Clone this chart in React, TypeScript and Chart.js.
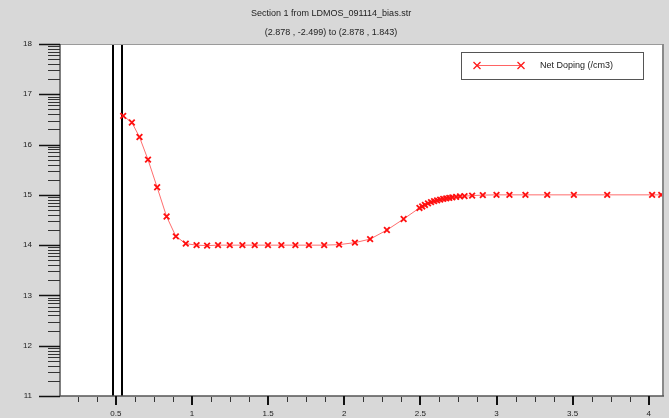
import React, { useEffect, useRef } from 'react';
import { Chart, registerables } from 'chart.js';

Chart.register(...registerables);

const titleLines = ['Section 1 from LDMOS_091114_bias.str', '(2.878 , -2.499) to (2.878 , 1.843)'];
const seriesLabel = 'Net Doping (/cm3)';

const xValues = [
  0.548, 0.605, 0.655, 0.711, 0.771, 0.833, 0.894, 0.959, 1.03, 1.099,
  1.171, 1.248, 1.331, 1.412, 1.499, 1.587, 1.679, 1.768, 1.868, 1.966,
  2.07, 2.17, 2.28, 2.39, 2.494, 2.512, 2.53, 2.55, 2.57, 2.59,
  2.61, 2.63, 2.65, 2.67, 2.69, 2.71, 2.735, 2.76, 2.79, 2.84,
  2.91, 3.0, 3.085, 3.19, 3.333, 3.508, 3.727, 4.022, 4.082,
];
const yValues = [
  16.57, 16.44, 16.15, 15.7, 15.15, 14.57, 14.175, 14.03, 14.0, 13.99,
  14.0, 14.0, 14.0, 14.0, 14.0, 14.0, 14.0, 14.0, 14.0, 14.01,
  14.05, 14.12, 14.3, 14.52, 14.74, 14.77, 14.8, 14.83, 14.855, 14.875,
  14.89, 14.905, 14.92, 14.93, 14.94, 14.95, 14.96, 14.97, 14.975, 14.985,
  14.995, 15.0, 15.0, 15.0, 15.0, 15.0, 15.0, 15.0, 15.0,
];
const regionBoundaries = [0.482, 0.537];
const xTickValues = [0.5, 1, 1.5, 2, 2.5, 3, 3.5, 4];
const yTickValues = [11, 12, 13, 14, 15, 16, 17, 18];
const xRange = [0.133, 4.087];
const yRange = [11, 18];

const FONT = 'Liberation Sans, Arial, Helvetica, sans-serif';
const BG = '#d8d8d8';

const framePlugin = {
  id: 'tonyFrame',
  beforeDraw(chart: any) {
    const { ctx, chartArea: a } = chart;
    ctx.save();
    ctx.fillStyle = BG;
    ctx.fillRect(0, 0, chart.width, chart.height);
    ctx.fillStyle = '#ffffff';
    ctx.fillRect(a.left, a.top, a.right - a.left, a.bottom - a.top);
    ctx.restore();
  },
  beforeDatasetsDraw(chart: any) {
    const { ctx, chartArea: a, scales } = chart;
    ctx.save();
    ctx.strokeStyle = '#000000';
    ctx.lineWidth = 2;
    regionBoundaries.forEach((v) => {
      const px = Math.round(scales.x.getPixelForValue(v));
      ctx.beginPath();
      ctx.moveTo(px, a.top);
      ctx.lineTo(px, a.bottom);
      ctx.stroke();
    });
    ctx.restore();
  },
  afterDraw(chart: any) {
    const { ctx, chartArea: a, scales } = chart;
    const xs = scales.x;
    const ys = scales.y;
    ctx.save();
    ctx.strokeStyle = '#9a9a9a';
    ctx.lineWidth = 1;
    ctx.beginPath();
    ctx.moveTo(a.left, a.top + 0.5);
    ctx.lineTo(a.right, a.top + 0.5);
    ctx.stroke();
    ctx.strokeStyle = '#8a8a8a';
    ctx.lineWidth = 2;
    ctx.beginPath();
    ctx.moveTo(a.right + 1, a.top);
    ctx.lineTo(a.right + 1, a.bottom);
    ctx.stroke();
    ctx.strokeStyle = '#555555';
    ctx.lineWidth = 1.5;
    ctx.beginPath();
    ctx.moveTo(a.left, a.top);
    ctx.lineTo(a.left, a.bottom);
    ctx.lineTo(a.right + 2, a.bottom);
    ctx.stroke();

    ctx.strokeStyle = '#111111';
    yTickValues.forEach((v) => {
      const py = Math.round(ys.getPixelForValue(v)) + 0.5;
      ctx.lineWidth = 1.5;
      ctx.beginPath();
      ctx.moveTo(a.left - 21, py);
      ctx.lineTo(a.left, py);
      ctx.stroke();
    });
    ctx.strokeStyle = '#333333';
    ctx.lineWidth = 1;
    for (let n = yRange[0]; n < yRange[1]; n++) {
      for (let k = 2; k <= 9; k++) {
        const py = Math.round(ys.getPixelForValue(n + Math.log10(k))) + 0.5;
        ctx.beginPath();
        ctx.moveTo(a.left - 12, py);
        ctx.lineTo(a.left, py);
        ctx.stroke();
      }
    }

    ctx.strokeStyle = '#111111';
    ctx.lineWidth = 2;
    xTickValues.forEach((v) => {
      const px = Math.round(xs.getPixelForValue(v));
      ctx.beginPath();
      ctx.moveTo(px, a.bottom);
      ctx.lineTo(px, a.bottom + 9);
      ctx.stroke();
    });
    ctx.strokeStyle = '#333333';
    ctx.lineWidth = 1;
    for (let v = 0.125; v < xRange[1]; v += 0.125) {
      if (v < xRange[0] || Math.abs(v * 2 - Math.round(v * 2)) < 1e-6) continue;
      const px = Math.round(xs.getPixelForValue(v)) + 0.5;
      ctx.beginPath();
      ctx.moveTo(px, a.bottom + 1);
      ctx.lineTo(px, a.bottom + 6);
      ctx.stroke();
    }

    const ds = chart.data.datasets[0];
    const lx = a.left + 401;
    const ly = a.top + 8;
    const lw = 182;
    const lh = 27;
    ctx.fillStyle = '#ffffff';
    ctx.fillRect(lx, ly, lw, lh);
    ctx.strokeStyle = '#555555';
    ctx.lineWidth = 1;
    ctx.strokeRect(lx + 0.5, ly + 0.5, lw, lh);
    const my = ly + 13.5;
    const x1 = lx + 16;
    const x2 = lx + 60;
    ctx.strokeStyle = 'rgba(255,60,60,0.8)';
    ctx.beginPath();
    ctx.moveTo(x1, my);
    ctx.lineTo(x2, my);
    ctx.stroke();
    ctx.strokeStyle = '#ff1a1a';
    ctx.lineWidth = 1.3;
    [x1, x2].forEach((cx) => {
      ctx.beginPath();
      ctx.moveTo(cx - 3.5, my - 3.5);
      ctx.lineTo(cx + 3.5, my + 3.5);
      ctx.moveTo(cx - 3.5, my + 3.5);
      ctx.lineTo(cx + 3.5, my - 3.5);
      ctx.stroke();
    });
    ctx.fillStyle = '#222222';
    ctx.font = `9px ${FONT}`;
    ctx.textBaseline = 'middle';
    ctx.textAlign = 'left';
    ctx.fillText(ds.label, lx + 79, my);
    ctx.restore();
  },
};

export default function App() {
  const canvasRef = useRef<HTMLCanvasElement | null>(null);

  useEffect(() => {
    const canvas = canvasRef.current;
    if (!canvas) return;
    const chart = new Chart(canvas, {
      type: 'scatter',
      data: {
        datasets: [
          {
            label: seriesLabel,
            data: xValues.map((x, i) => ({ x, y: yValues[i] })),
            showLine: true,
            borderColor: 'rgba(255,60,60,0.75)',
            borderWidth: 1,
            pointStyle: 'crossRot',
            pointRadius: 4,
            pointBorderColor: '#ff1010',
            pointBorderWidth: 1.8,
            pointBackgroundColor: 'rgba(0,0,0,0)',
            tension: 0,
          } as any,
        ],
      },
      options: {
        animation: false,
        responsive: false,
        devicePixelRatio: 1,
        layout: { padding: { left: 0, right: 7, top: 0, bottom: 0 } },
        plugins: {
          legend: { display: false },
          tooltip: { enabled: false },
          title: {
            display: true,
            text: titleLines,
            color: '#222222',
            font: { family: FONT, size: 9, weight: 'normal', lineHeight: 19 / 9 },
            padding: { top: 4.5, bottom: 1.5 },
          },
        },
        scales: {
          x: {
            type: 'linear',
            min: xRange[0],
            max: xRange[1],
            afterBuildTicks: (s: any) => {
              s.ticks = xTickValues.map((v) => ({ value: v }));
            },
            afterFit: (s: any) => {
              s.height = 22;
            },
            grid: { display: false, drawTicks: true, tickLength: 9 },
            border: { display: false },
            ticks: {
              padding: 4,
              autoSkip: false,
              maxRotation: 0,
              color: '#222222',
              font: { family: FONT, size: 8 },
              callback: (v: any) => String(v),
            },
          },
          y: {
            type: 'linear',
            min: yRange[0],
            max: yRange[1],
            afterBuildTicks: (s: any) => {
              s.ticks = yTickValues.map((v) => ({ value: v }));
            },
            afterFit: (s: any) => {
              s.width = 60;
            },
            grid: { display: false, drawTicks: true, tickLength: 20 },
            border: { display: false },
            ticks: {
              padding: 8,
              color: '#222222',
              font: { family: FONT, size: 8 },
              callback: (v: any) => String(v),
            },
          },
        },
      } as any,
      plugins: [framePlugin],
    });
    return () => chart.destroy();
  }, []);

  return (
    <div style={{ position: 'absolute', left: 0, top: 0, width: 669, height: 418 }}>
      <canvas ref={canvasRef} width={669} height={418} style={{ display: 'block' }} />
    </div>
  );
}
